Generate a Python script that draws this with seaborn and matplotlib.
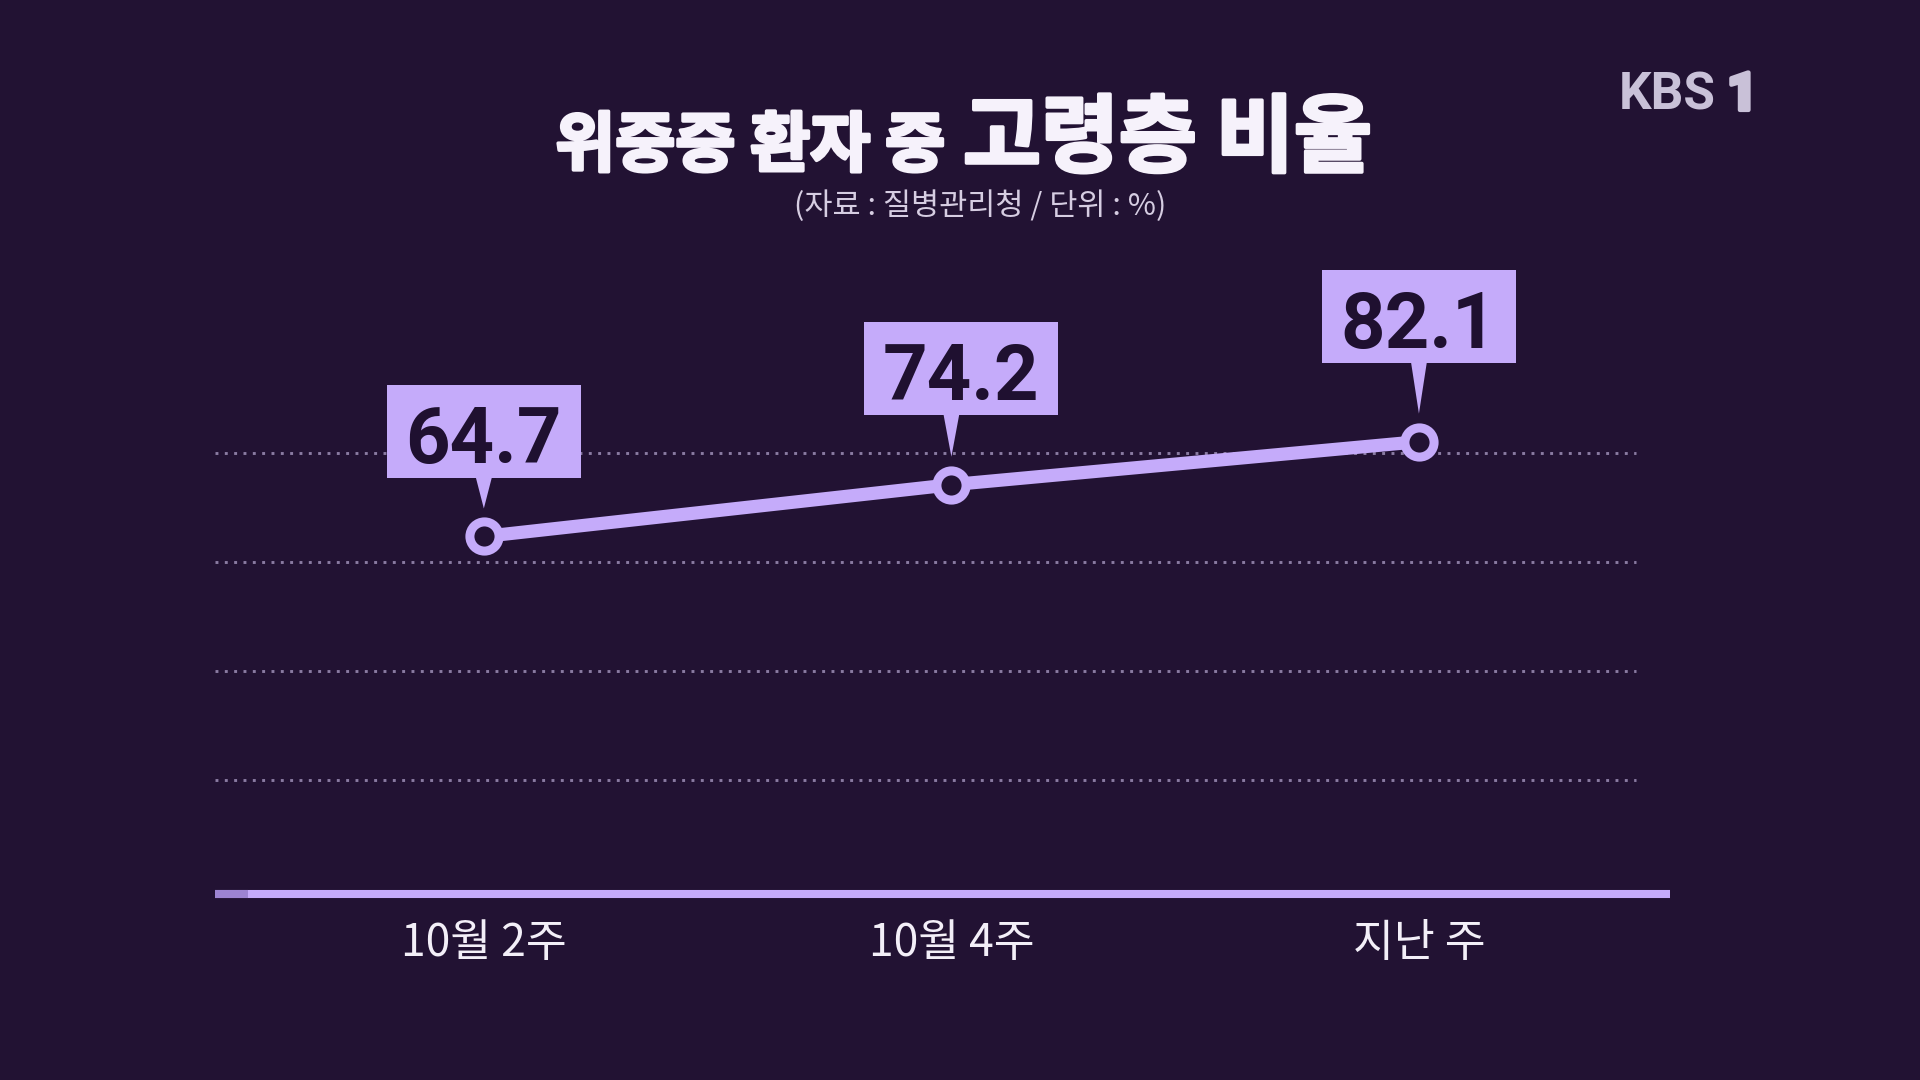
import numpy as np
import pandas as pd
import matplotlib
matplotlib.use("Agg")
import matplotlib.pyplot as plt
import seaborn as sns
from matplotlib import font_manager as fm
from matplotlib import patheffects as pe
from matplotlib.patches import Rectangle, Polygon

# ---------------- data ----------------
categories = ["10월 2주", "10월 4주", "지난 주"]
values = [64.7, 74.2, 82.1]
value_labels = ["64.7", "74.2", "82.1"]
grid_values = [20, 40, 60, 80]
title_main = "위중증 환자 중"
title_emph = "고령층 비율"
subtitle = "(자료 : 질병관리청 / 단위 : %)"
logo_text = "KBS"
logo_num = "1"

# ---------------- style ----------------
BG = "#221233"
LAV = "#c5abfa"
LAV_DARK = "#9d84d2"
GRID = "#8a7ba2"
TXT_DARK = "#1f1030"
TITLE = "#f6f2fb"
W, H = 1920, 1080

sns.set_theme(style="dark", rc={"axes.facecolor": BG, "figure.facecolor": BG})
plt.rcParams["font.family"] = ["Noto Sans CJK KR", "DejaVu Sans"]

names = {f.name for f in fm.fontManager.ttflist}
if "Liberation Sans Narrow" in names:
    num_font, num_size = "Liberation Sans Narrow", 62
else:
    num_font, num_size = "Roboto", 56

fig = plt.figure(figsize=(19.2, 10.8), dpi=100, facecolor=BG)
ax = fig.add_axes([215 / W, 186 / H, 1455 / W, 694 / H])
ax.set_facecolor("none")

ax.set_xlim(-0.575, 2.537)
ax.set_ylim(-0.9, 126.44)

# dotted gridlines
ax.hlines(grid_values, -0.575, 2.464, colors=GRID, linestyles=(0, (1, 2.2)),
          linewidth=2.1, zorder=1)

df = pd.DataFrame({"x": np.arange(len(categories)), "y": values})
sns.lineplot(data=df, x="x", y="y", ax=ax, color=LAV, linewidth=9.5,
             marker="o", markersize=21, markerfacecolor=BG,
             markeredgecolor=LAV, markeredgewidth=6.5, zorder=3,
             solid_capstyle="butt")

ax.set_xticks(np.arange(len(categories)))
ax.set_xticklabels(categories, fontsize=32, color="#f3eff8")
ax.tick_params(axis="x", length=0, pad=19)
ax.set_yticks([])
ax.set_xlabel("")
ax.set_ylabel("")
ax.grid(False)
for s in ["left", "right", "top"]:
    ax.spines[s].set_visible(False)
ax.spines["bottom"].set_color(LAV)
ax.spines["bottom"].set_linewidth(5.8)
ax.spines["bottom"].set_capstyle("butt")
ax.plot([-0.575, -0.575 + 33 / 467.5], [-0.9, -0.9], color=LAV_DARK, lw=5.8,
        solid_capstyle="butt", clip_on=False, zorder=4)

# ---------------- value callouts ----------------
pts = ax.transData.transform(np.column_stack([np.arange(len(values)), values]))
gaps = [58, 70, 79]
xoffs = [0, 10, 0]
bw, bh = 194, 93
for (px, py), lab, g, xo in zip(pts, value_labels, gaps, xoffs):
    bottom = py + g
    cx = px + xo
    fig.add_artist(Rectangle(((cx - bw / 2) / W, bottom / H), bw / W, bh / H,
                             transform=fig.transFigure, facecolor=LAV,
                             edgecolor="none", zorder=5))
    fig.add_artist(Polygon([((px - 8) / W, (bottom + 1) / H),
                            ((px + 8) / W, (bottom + 1) / H),
                            (px / W, (py + 28) / H)],
                           closed=True, transform=fig.transFigure,
                           facecolor=LAV, edgecolor="none", zorder=5))
    fig.text(cx / W, (bottom + bh / 2 - 31.5) / H, lab, ha="center",
             va="baseline", fontsize=num_size, family=num_font,
             weight="bold", color=TXT_DARK, zorder=6)

# ---------------- titles ----------------
thick = [pe.withStroke(linewidth=2.5, foreground=TITLE)]
fig.text(945 / W, (H - 166) / H, title_main, ha="right", va="baseline",
         fontsize=47, weight="black", color=TITLE, path_effects=thick)
fig.text(963 / W, (H - 165) / H, title_emph, ha="left", va="baseline",
         fontsize=61, weight="black", color=TITLE, path_effects=thick)
fig.text(980 / W, (H - 215) / H, subtitle, ha="center", va="baseline",
         fontsize=22, color="#d6cde2")

# logo
fig.text(1619 / W, (H - 110) / H, logo_text, ha="left", va="baseline",
         fontsize=37, family="Roboto", weight="bold", color="#c9c1d8")
fig.text(1727 / W, (H - 110) / H, logo_num, ha="left", va="baseline",
         fontsize=38, family="Roboto", weight="black", color="#c9c1d8",
         path_effects=[pe.withStroke(linewidth=3, foreground="#c9c1d8")])

fig.savefig("out.png", dpi=100, facecolor=BG)
